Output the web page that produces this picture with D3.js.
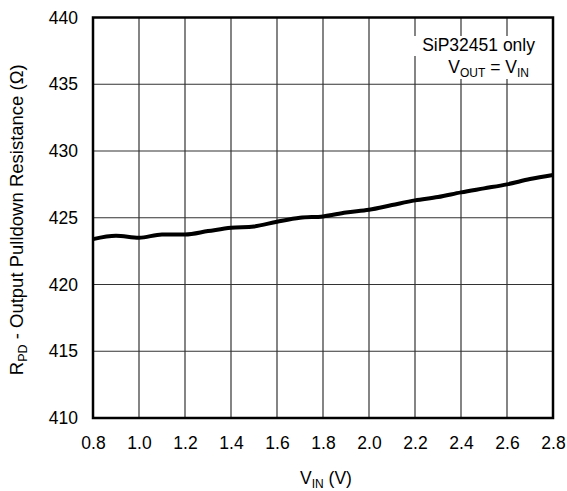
<!DOCTYPE html>
<html>
<head>
<meta charset="utf-8">
<script src="https://cdn.jsdelivr.net/npm/d3@7"></script>
<style>
  body { margin: 0; background: #fff; }
  text { font-family: "Liberation Sans", Arial, sans-serif; fill: #000; }
</style>
</head>
<body>
<div id="chart"></div>
<script>
var vin = [0.8, 0.9, 1.0, 1.1, 1.2, 1.3, 1.4, 1.5, 1.6, 1.7, 1.8, 1.9, 2.0, 2.1, 2.2, 2.3, 2.4, 2.5, 2.6, 2.7, 2.8];
var rpd = [423.4, 423.65, 423.5, 423.75, 423.75, 424.0, 424.25, 424.35, 424.7, 425.0, 425.1, 425.4, 425.6, 425.95, 426.3, 426.55, 426.9, 427.2, 427.5, 427.9, 428.2];
var xTicks = [0.8, 1.0, 1.2, 1.4, 1.6, 1.8, 2.0, 2.2, 2.4, 2.6, 2.8];
var yTicks = [410, 415, 420, 425, 430, 435, 440];

var W = 567, H = 491;
var mLeft = 93, mRight = 553, mTop = 17.5, mBottom = 418;
var fs = 17.5, fsSub = 12;

var svg = d3.select("#chart").append("svg")
    .attr("width", W).attr("height", H);

var x = d3.scaleLinear().domain([0.8, 2.8]).range([mLeft, mRight]);
var y = d3.scaleLinear().domain([410, 440]).range([mBottom, mTop]);

// grid
svg.selectAll(".vgrid").data(xTicks.slice(1, -1)).enter()
    .append("line")
    .attr("x1", function(d){ return x(d); })
    .attr("x2", function(d){ return x(d); })
    .attr("y1", mTop).attr("y2", mBottom)
    .attr("stroke", "#333").attr("stroke-width", 1.2);
svg.selectAll(".hgrid").data(yTicks.slice(1, -1)).enter()
    .append("line")
    .attr("y1", function(d){ return y(d); })
    .attr("y2", function(d){ return y(d); })
    .attr("x1", mLeft).attr("x2", mRight)
    .attr("stroke", "#333").attr("stroke-width", 1.2);

// tick labels
var xAxis = svg.append("g").attr("transform", "translate(0," + mBottom + ")")
    .call(d3.axisBottom(x).tickValues(xTicks).tickSize(0).tickPadding(19)
        .tickFormat(d3.format(".1f")));
var yAxis = svg.append("g").attr("transform", "translate(" + mLeft + ",0)")
    .call(d3.axisLeft(y).tickValues(yTicks).tickSize(0).tickPadding(15));
[xAxis, yAxis].forEach(function(g){
  g.select(".domain").remove();
  g.selectAll("text").attr("font-family", "Liberation Sans, Arial, sans-serif")
    .attr("font-size", fs).attr("fill", "#000");
});

// annotation (white boxes hide the grid behind the text)
svg.append("rect").attr("x", 410).attr("y", 36).attr("width", 132).attr("height", 20).attr("fill", "#fff");
svg.append("rect").attr("x", 438).attr("y", 56).attr("width", 104).attr("height", 23).attr("fill", "#fff");
svg.append("text").attr("x", 535).attr("y", 51).attr("text-anchor", "end")
    .attr("font-size", fs).text("SiP32451 only");
var t2 = svg.append("text").attr("x", 529).attr("y", 73).attr("text-anchor", "end").attr("font-size", fs);
t2.append("tspan").text("V");
t2.append("tspan").attr("font-size", fsSub).attr("dy", 4).text("OUT");
t2.append("tspan").attr("dy", -4).text(" = V");
t2.append("tspan").attr("font-size", fsSub).attr("dy", 4).text("IN");

// curve
var line = d3.line()
    .x(function(d, i){ return x(vin[i]); })
    .y(function(d){ return y(d); })
    .curve(d3.curveMonotoneX);
svg.append("path").datum(rpd)
    .attr("d", line)
    .attr("fill", "none")
    .attr("stroke", "#000")
    .attr("stroke-width", 4)
    .attr("stroke-linejoin", "round");

// frame
svg.append("rect")
    .attr("x", mLeft).attr("y", mTop)
    .attr("width", mRight - mLeft).attr("height", mBottom - mTop)
    .attr("fill", "none").attr("stroke", "#000").attr("stroke-width", 2.5);

// x label
var xl = svg.append("text").attr("x", 326).attr("y", 484)
    .attr("text-anchor", "middle").attr("font-size", fs);
xl.append("tspan").text("V");
xl.append("tspan").attr("font-size", fsSub).attr("dy", 4).text("IN");
xl.append("tspan").attr("dy", -4).text(" (V)");

// y label
var yl = svg.append("text")
    .attr("transform", "translate(23," + ((mTop + mBottom) / 2 + 2) + ") rotate(-90)")
    .attr("text-anchor", "middle").attr("font-size", 18.5);
yl.append("tspan").text("R");
yl.append("tspan").attr("font-size", fsSub + 0.5).attr("dy", 4).text("PD");
yl.append("tspan").attr("dy", -4).text(" - Output Pulldown Resistance (\u03A9)");
</script>
</body>
</html>
